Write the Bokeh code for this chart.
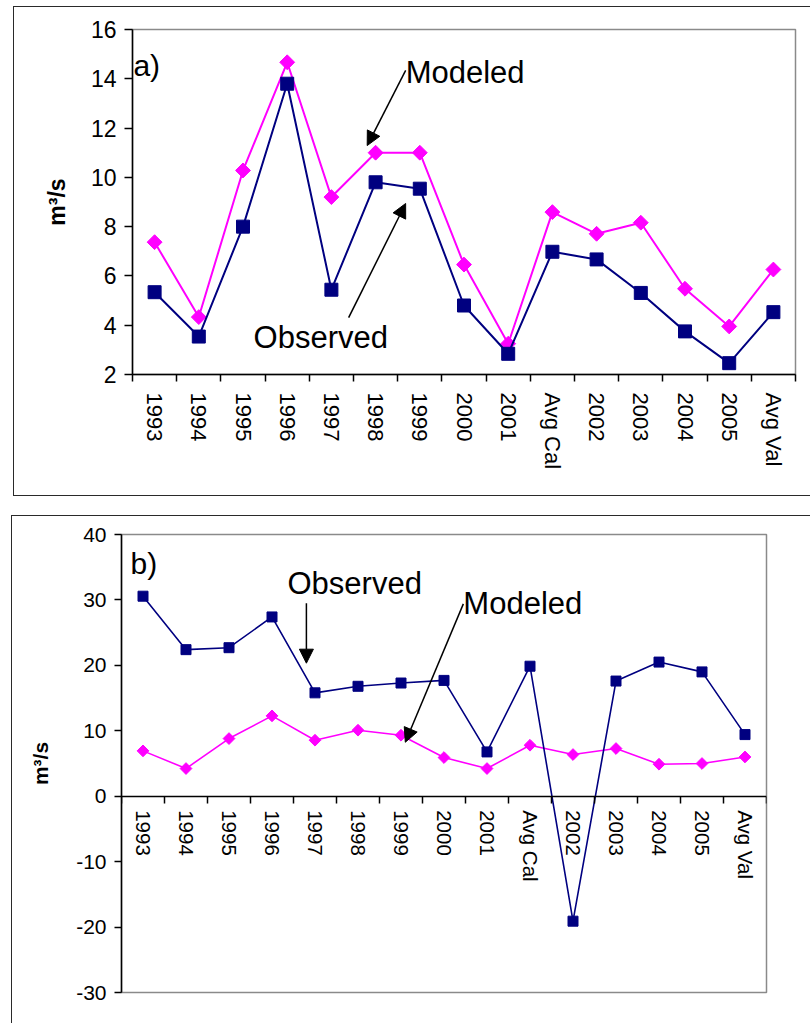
from bokeh.plotting import figure
from bokeh.models import Range1d, FixedTicker, Label, Arrow, NormalHead
from bokeh.embed import file_html
from bokeh.resources import INLINE
import numpy as np

# Category labels shared by both panels
categories = ["1993", "1994", "1995", "1996", "1997", "1998", "1999", "2000",
              "2001", "Avg Cal", "2002", "2003", "2004", "2005", "Avg Val"]

# Panel a) flows (m3/s)
observed_a = [5.34, 3.54, 8.0, 13.8, 5.44, 9.8, 9.54, 4.8, 2.84, 6.98,
              6.67, 5.31, 3.75, 2.46, 4.53]
modeled_a = [7.37, 4.33, 10.28, 14.67, 9.2, 11.0, 11.0, 6.46, 3.25, 8.59,
             7.71, 8.16, 5.48, 3.95, 6.26]

# Panel b) flows (m3/s)
observed_b = [30.57, 22.4, 22.7, 27.4, 15.8, 16.8, 17.3, 17.7, 6.77, 19.87,
              -19.1, 17.6, 20.5, 19.0, 9.42]
modeled_b = [6.93, 4.23, 8.81, 12.28, 8.56, 10.09, 9.32, 5.91, 4.23, 7.79,
             6.37, 7.29, 4.89, 5.0, 6.0]

y_ticks_a = [2, 4, 6, 8, 10, 12, 14, 16]
y_ticks_b = [-30, -20, -10, 0, 10, 20, 30, 40]

FONT = "Liberation Sans"
NAVY = "#000080"
MAGENTA = "#FF00FF"

n = len(categories)
xc = [i + 0.5 for i in range(n)]
bounds = list(range(n + 1))


def style_panel(p, y_ticks, xlabel_px, ytick_px, ylabel_px, ytick_out,
                xstandoff, ylabel_standoff):
    p.title.visible = False
    p.grid.visible = False
    p.outline_line_color = "#8a8a8a"
    p.outline_line_width = 1.5
    p.background_fill_color = "white"
    p.border_fill_color = "white"

    xa = p.xaxis[0]
    xa.ticker = FixedTicker(ticks=xc, minor_ticks=bounds)
    xa.major_label_overrides = {x: c for x, c in zip(xc, categories)}
    xa.major_tick_out = 0
    xa.major_tick_in = 0
    xa.minor_tick_out = 7
    xa.minor_tick_in = 0
    xa.minor_tick_line_color = "black"
    xa.minor_tick_line_width = 1.5
    xa.axis_line_color = "black"
    xa.axis_line_width = 1.5
    xa.major_label_orientation = "vertical"
    xa.major_label_standoff = xstandoff
    xa.major_label_text_font = FONT
    xa.major_label_text_font_size = xlabel_px
    xa.major_label_text_color = "black"

    ya = p.yaxis[0]
    ya.ticker = FixedTicker(ticks=y_ticks, minor_ticks=[])
    ya.major_label_overrides = {t: str(t) for t in y_ticks}
    ya.major_tick_out = ytick_out
    ya.major_tick_in = 0
    ya.major_tick_line_color = "black"
    ya.major_tick_line_width = 1.5
    ya.axis_line_color = "black"
    ya.axis_line_width = 1.5
    ya.major_label_standoff = 8
    ya.major_label_text_font = FONT
    ya.major_label_text_font_size = ytick_px
    ya.major_label_text_color = "black"
    ya.axis_label = "m³/s"
    ya.axis_label_text_font = FONT
    ya.axis_label_text_font_style = "bold"
    ya.axis_label_text_font_size = ylabel_px
    ya.axis_label_text_color = "black"
    ya.axis_label_standoff = ylabel_standoff


def draw_series(p, obs, mod, lw, sq, dm):
    p.line(xc, mod, line_color=MAGENTA, line_width=lw)
    p.scatter(xc, mod, marker="square", angle=np.pi / 4, size=dm,
              fill_color=MAGENTA, line_color=MAGENTA)
    p.line(xc, obs, line_color=NAVY, line_width=lw)
    p.scatter(xc, obs, marker="square", size=sq, fill_color=NAVY, line_color=NAVY)


def note(p, x, y, text, size="31px"):
    p.add_layout(Label(x=x, y=y, text=text, text_font=FONT, text_font_size=size,
                       text_color="black", text_baseline="alphabetic"))


def pointer(p, xs, ys, xe, ye):
    p.add_layout(Arrow(end=NormalHead(size=14, fill_color="black", line_color="black"),
                       x_start=xs, y_start=ys, x_end=xe, y_end=ye,
                       line_color="black", line_width=1.5))


# ---- panel a ----
pa = figure(width=796, height=488, x_range=Range1d(0, n), y_range=Range1d(2, 16),
            output_backend="svg", toolbar_location=None,
            min_border_left=118, min_border_right=15, min_border_top=22,
            min_border_bottom=121,
            styles={"margin-left": "14px", "margin-top": "7px",
                    "outline": "1.5px solid #2a2a2a"})
style_panel(pa, y_ticks_a, "22px", "23px", "23px", 8, 11, 18)
draw_series(pa, observed_a, modeled_a, 2, 13, 10.5)
note(pa, 0.02, 14.54, "a)", "30px")
note(pa, 6.18, 14.27, "Modeled")
note(pa, 2.74, 3.50, "Observed")
pointer(pa, 6.18, 14.34, 5.31, 11.29)
pointer(pa, 4.89, 4.31, 6.18, 8.94)

# ---- panel b ----
pb = figure(width=798, height=507, x_range=Range1d(0, n), y_range=Range1d(-30, 40),
            output_backend="svg", toolbar_location=None,
            min_border_left=109, min_border_right=44, min_border_top=18,
            min_border_bottom=31,
            styles={"margin-left": "12px", "margin-top": "21px",
                    "outline": "1.5px solid #2a2a2a"})
style_panel(pb, y_ticks_b, "20.5px", "21px", "21px", 7, 7, 21)
pb.xaxis[0].fixed_location = 0
draw_series(pb, observed_b, modeled_b, 1.6, 10, 8.3)
note(pb, 0.21, 35.6, "b)", "30px")
note(pb, 3.86, 32.55, "Observed")
note(pb, 7.95, 29.5, "Modeled")
pointer(pb, 4.30, 29.5, 4.30, 20.33)
pointer(pb, 7.95, 29.4, 6.60, 8.25)

open("out.html", "w").write(file_html([pa, pb], INLINE))
